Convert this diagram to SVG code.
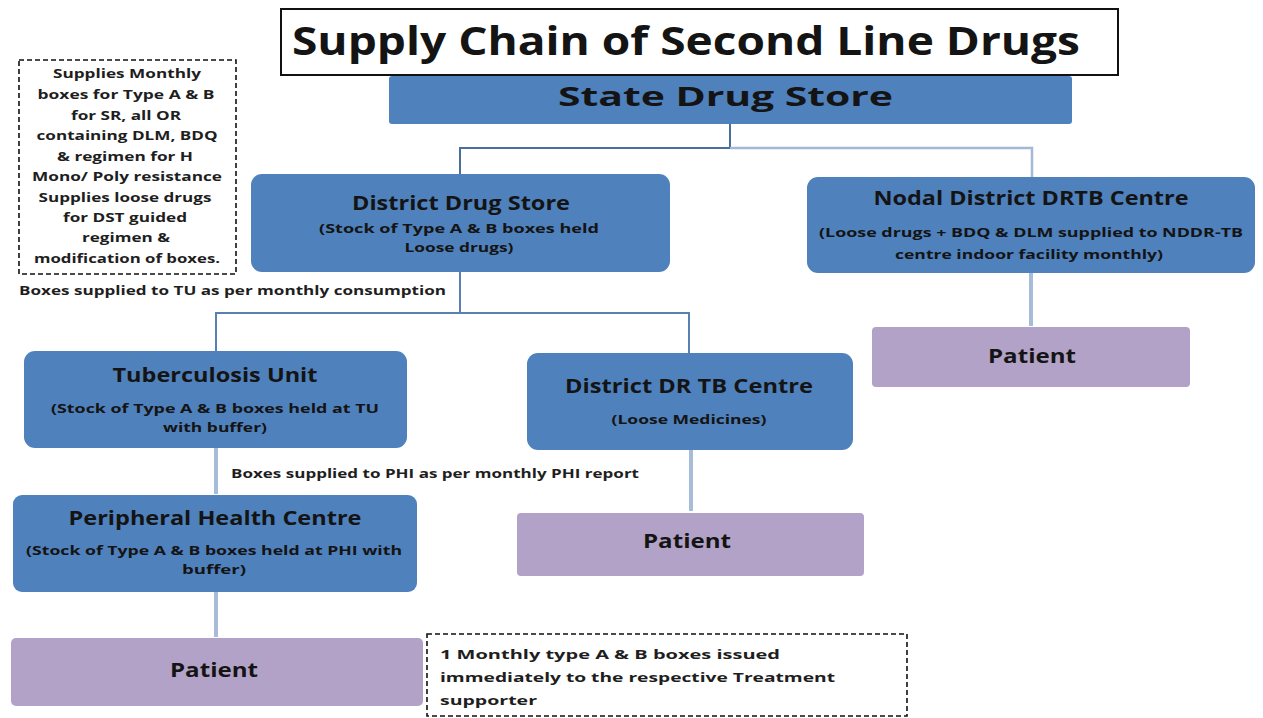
<svg xmlns="http://www.w3.org/2000/svg" width="1263" height="718" viewBox="0 0 1263 718">
  <style>
    text { font-family: "Open Sans", "Liberation Sans", sans-serif; font-weight: bold; fill: #141414; }
    .node { fill: #4f81bd; }
    .patient { fill: #b2a2c7; }
    .ttl { font-size: 19px; text-anchor: middle; }
    .sub { font-size: 13px; text-anchor: middle; }
    .pt { font-size: 19px; text-anchor: middle; }
    .note { font-size: 13px; fill: #1e1e1e; }
    .notec { font-size: 13px; fill: #1e1e1e; text-anchor: middle; }
    .dash { fill: #fff; stroke: #111; stroke-width: 1.6; stroke-dasharray: 5 3; }
    .dark { fill: none; stroke: #4a6e9e; stroke-width: 2; }
    .mid { fill: none; stroke: #5a80b3; stroke-width: 2; }
    .light { fill: none; stroke: #a3b9d7; stroke-width: 2.5; }
    .thick { fill: none; stroke: #a6bcd9; stroke-width: 4; }
  </style>

  <rect width="1263" height="718" fill="#fff"/>

  <!-- connectors -->
  <g id="connectors">
    <path class="dark" d="M730 124 V148 H460 V174"/>
    <path class="light" d="M730 148 H1032 V177"/>
    <path class="mid" d="M460 272 V313 H216 V351"/>
    <path class="mid" d="M460 313 H689 V353"/>
    <path class="thick" d="M1031 273 V326"/>
    <path class="thick" d="M216 448 V494"/>
    <path class="thick" d="M691 450 V511"/>
    <path class="thick" d="M216 592 V637"/>
  </g>

  <!-- heading -->
  <g id="title">
    <rect x="281" y="9" width="837" height="66" fill="#fff" stroke="#111" stroke-width="2"/>
    <text x="292" y="55" font-size="40" textLength="788" lengthAdjust="spacingAndGlyphs">Supply Chain of Second Line Drugs</text>
  </g>

  <g id="state-drug-store">
    <rect class="node" x="389" y="76" width="683" height="48" rx="3"/>
    <text x="558" y="106" font-size="27" textLength="335" lengthAdjust="spacingAndGlyphs">State Drug Store</text>
  </g>

  <g id="district-drug-store">
    <rect class="node" x="251" y="174" width="419" height="98" rx="11"/>
    <text class="ttl" x="461" y="210" textLength="218" lengthAdjust="spacingAndGlyphs">District Drug Store</text>
    <text class="sub" x="459" y="233" textLength="280" lengthAdjust="spacingAndGlyphs">(Stock of Type A &amp; B  boxes held</text>
    <text class="sub" x="459" y="252" textLength="109" lengthAdjust="spacingAndGlyphs">Loose drugs)</text>
  </g>

  <g id="nodal-drtb-centre">
    <rect class="node" x="807" y="177" width="448" height="96" rx="11"/>
    <text class="ttl" x="1031" y="205" textLength="315" lengthAdjust="spacingAndGlyphs">Nodal District DRTB Centre</text>
    <text class="sub" x="1031" y="237" textLength="424" lengthAdjust="spacingAndGlyphs">(Loose drugs  + BDQ &amp; DLM supplied to NDDR-TB</text>
    <text class="sub" x="1029" y="259" textLength="268" lengthAdjust="spacingAndGlyphs">centre indoor facility monthly)</text>
  </g>

  <g id="patient-nodal">
    <rect class="patient" x="872" y="327" width="318" height="60" rx="4"/>
    <text class="pt" x="1032" y="363" textLength="88" lengthAdjust="spacingAndGlyphs">Patient</text>
  </g>

  <g id="tuberculosis-unit">
    <rect class="node" x="24" y="351" width="383" height="97" rx="11"/>
    <text class="ttl" x="215" y="382" textLength="205" lengthAdjust="spacingAndGlyphs">Tuberculosis Unit</text>
    <text class="sub" x="215" y="413" textLength="328" lengthAdjust="spacingAndGlyphs">(Stock of Type A &amp; B boxes held at TU</text>
    <text class="sub" x="215" y="432" textLength="104" lengthAdjust="spacingAndGlyphs">with buffer)</text>
  </g>

  <g id="district-drtb-centre">
    <rect class="node" x="527" y="353" width="326" height="97" rx="11"/>
    <text class="ttl" x="689" y="393" textLength="248" lengthAdjust="spacingAndGlyphs">District DR TB Centre</text>
    <text class="sub" x="689" y="424" textLength="155" lengthAdjust="spacingAndGlyphs">(Loose Medicines)</text>
  </g>

  <g id="patient-district">
    <rect class="patient" x="517" y="513" width="347" height="63" rx="4"/>
    <text class="pt" x="687" y="548" textLength="88" lengthAdjust="spacingAndGlyphs">Patient</text>
  </g>

  <g id="peripheral-health-centre">
    <rect class="node" x="13" y="495" width="404" height="97" rx="9"/>
    <text class="ttl" x="215" y="525" textLength="293" lengthAdjust="spacingAndGlyphs">Peripheral Health Centre</text>
    <text class="sub" x="214" y="555" textLength="376" lengthAdjust="spacingAndGlyphs">(Stock of Type A &amp; B boxes held at PHI with</text>
    <text class="sub" x="214" y="574" textLength="64" lengthAdjust="spacingAndGlyphs">buffer)</text>
  </g>

  <g id="patient-phc">
    <rect class="patient" x="11" y="638" width="412" height="68" rx="5"/>
    <text class="pt" x="214" y="677" textLength="88" lengthAdjust="spacingAndGlyphs">Patient</text>
  </g>

  <!-- side notes -->
  <g id="note-state-supply">
    <rect class="dash" x="19" y="60" width="217" height="214"/>
    <text class="notec" x="127" y="78" textLength="148" lengthAdjust="spacingAndGlyphs">Supplies Monthly</text>
    <text class="notec" x="126" y="99" textLength="177" lengthAdjust="spacingAndGlyphs">boxes for Type A &amp; B</text>
    <text class="notec" x="126" y="120" textLength="110" lengthAdjust="spacingAndGlyphs">for SR, all OR</text>
    <text class="notec" x="127" y="140" textLength="181" lengthAdjust="spacingAndGlyphs">containing DLM, BDQ</text>
    <text class="notec" x="125" y="161" textLength="136" lengthAdjust="spacingAndGlyphs">&amp; regimen for H</text>
    <text class="notec" x="127" y="181" textLength="190" lengthAdjust="spacingAndGlyphs">Mono/ Poly resistance</text>
    <text class="notec" x="125" y="202" textLength="173" lengthAdjust="spacingAndGlyphs">Supplies loose drugs</text>
    <text class="notec" x="125" y="222" textLength="124" lengthAdjust="spacingAndGlyphs">for DST guided</text>
    <text class="notec" x="126" y="242" textLength="88" lengthAdjust="spacingAndGlyphs">regimen &amp;</text>
    <text class="notec" x="127" y="263" textLength="186" lengthAdjust="spacingAndGlyphs">modification of boxes.</text>
  </g>

  <g id="note-tu-supply">
    <text class="note" x="19" y="295" textLength="427" lengthAdjust="spacingAndGlyphs">Boxes supplied to TU  as per monthly consumption</text>
  </g>

  <g id="note-phi-supply">
    <text class="note" x="231" y="478" textLength="408" lengthAdjust="spacingAndGlyphs">Boxes supplied to PHI as per monthly PHI report</text>
  </g>

  <g id="note-treatment-supporter">
    <rect class="dash" x="427" y="634" width="480" height="82"/>
    <text class="note" x="440" y="659" font-size="14" textLength="340" lengthAdjust="spacingAndGlyphs">1 Monthly type  A  &amp; B boxes issued</text>
    <text class="note" x="440" y="682" font-size="14" textLength="395" lengthAdjust="spacingAndGlyphs">immediately  to the respective  Treatment</text>
    <text class="note" x="440" y="705" font-size="14" textLength="97" lengthAdjust="spacingAndGlyphs">supporter</text>
  </g>
</svg>
